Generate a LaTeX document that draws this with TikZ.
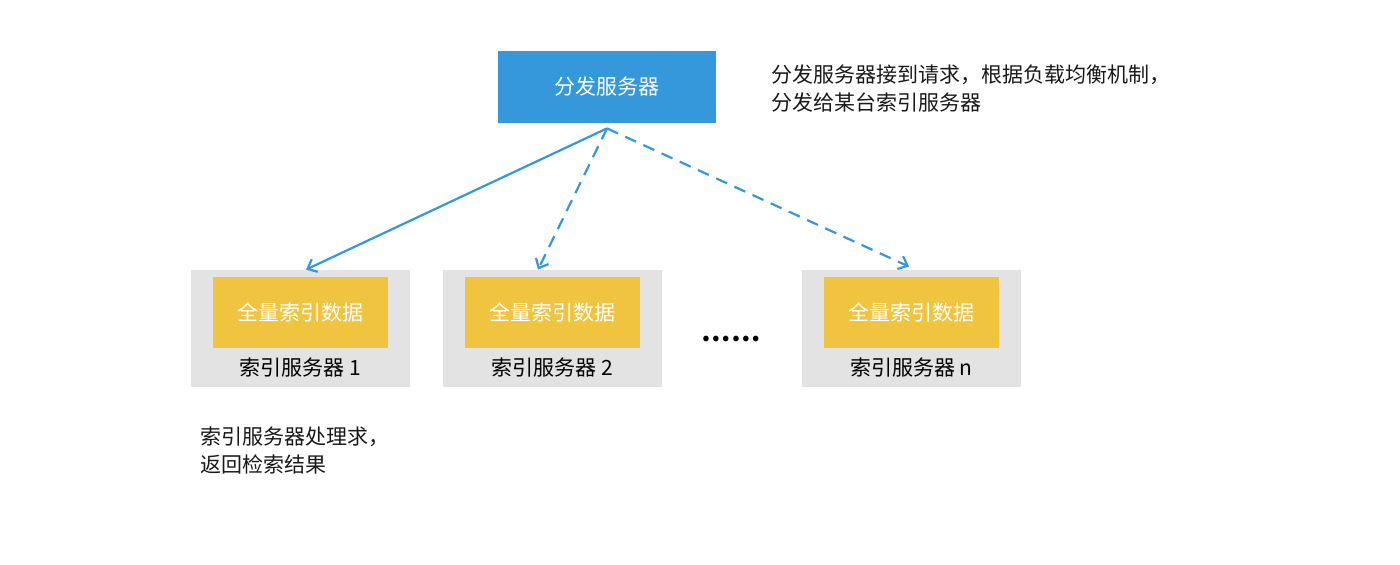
\documentclass[tikz,border=0pt]{standalone}
\usepackage{fontspec}
\setmainfont{Noto Sans CJK SC}
\usetikzlibrary{arrows.meta}
\definecolor{dispblue}{HTML}{3598DB}
\definecolor{idxyellow}{HTML}{F0C43F}
\definecolor{srvgray}{HTML}{E3E3E3}
\begin{document}
\begin{tikzpicture}[x=0.5pt, y=-0.5pt, font=\fontsize{10.5}{14}\selectfont]
        \tikzstyle{dispatcher}=[fill=dispblue, text=white, minimum width=109pt, minimum height=36pt, inner sep=0pt]
        \tikzstyle{server}=[fill=srvgray, minimum width=109.5pt, minimum height=58.5pt, inner sep=0pt]
        \tikzstyle{index}=[fill=idxyellow, text=white, minimum width=87.5pt, minimum height=35.5pt, inner sep=0pt]
        \tikzstyle{note}=[align=left, inner sep=0pt, text=black!90]
        \tikzstyle{link}=[dispblue, line width=1.1pt, -{Straight Barb[length=4pt, width=7pt]}]
        \useasboundingbox (0,0) rectangle (1400,565);
        \node [dispatcher] (disp) at (607,87) {分发服务器};
        \node [note, anchor=west] (dispnote) at (771,89) {分发服务器接到请求，根据负载均衡机制，\\分发给某台索引服务器};
        \node [server] (s1) at (300.5,328.5) {};
        \node [server] (s2) at (552.5,328.5) {};
        \node [server] (sn) at (911.5,328.5) {};
        \node [index] (d1) at (300.5,312.5) {全量索引数据};
        \node [index] (d2) at (552.5,312.5) {全量索引数据};
        \node [index] (dn) at (911.5,312.5) {全量索引数据};
        \node (l1) at (300.5,368) {索引服务器 1};
        \node (l2) at (552.5,368) {索引服务器 2};
        \node (ln) at (911.5,368) {索引服务器 n};
        \node [font=\fontsize{13}{14}\selectfont\bfseries] (dots) at (731,339) {……};
        \node [note, anchor=west] (resnote) at (200,451) {索引服务器处理求，\\返回检索结果};
        \coordinate (src) at ([yshift=-2.5pt]disp.south);
        \draw [link] (src) -- ([xshift=2.75pt]s1.north);
        \draw [link, dash pattern=on 6pt off 4pt] (src) -- ([xshift=-7.25pt]s2.north);
        \draw [link, dash pattern=on 6pt off 4pt] (src) -- ([xshift=-1.25pt, yshift=1.5pt]sn.north);
    \end{tikzpicture}
\end{document}
